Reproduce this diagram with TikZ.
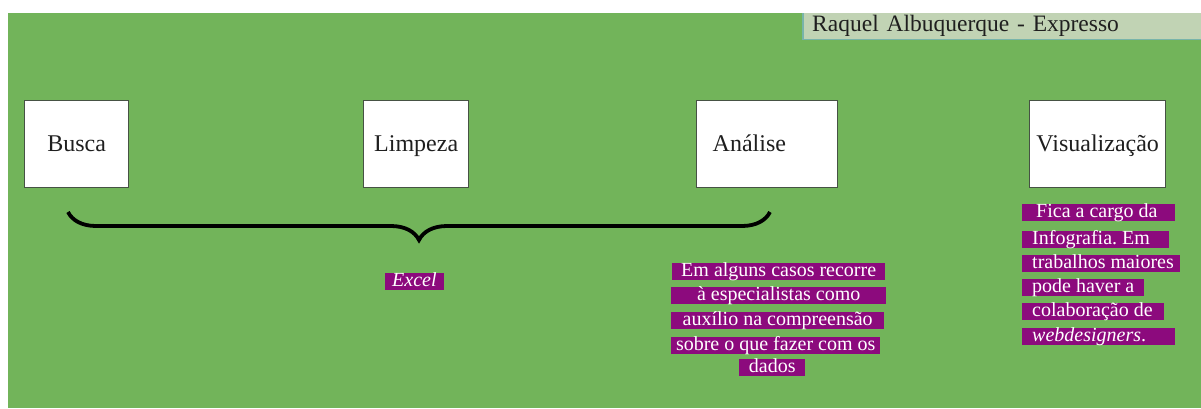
\documentclass[tikz,border=0pt]{standalone}
\usepackage{fontspec}
\setmainfont{Liberation Serif}
\usetikzlibrary{decorations.pathreplacing}
\frenchspacing

\definecolor{fundo}{RGB}{114,180,90}
\definecolor{roxo}{RGB}{140,10,125}
\definecolor{borda}{RGB}{70,82,68}
\definecolor{faixa}{RGB}{193,211,180}
\definecolor{faixaborda}{RGB}{120,180,170}

\tikzset{
	etapa/.style={draw=borda, line width=1.4pt, fill=white, anchor=north west,
		minimum height=87pt, inner sep=0pt, text=black!88, text height=17pt, text depth=3pt,
		font=\fontsize{24}{28}\selectfont},
	nota/.style={fill=roxo, text=white, anchor=north west, inner ysep=0pt,
		text height=13pt, text depth=4pt, font=\fontsize{20}{22}\selectfont}
}

\begin{document}
\begin{tikzpicture}[x=1pt, y=-1pt]

		\useasboundingbox (0,0) rectangle (1201,408);
		\fill[fundo] (8,13) rectangle (1201,408);

		\node[anchor=north west, fill=faixa, minimum width=398pt, minimum height=26pt,
			inner sep=0pt, text width=392pt, align=left, text=black!88,
			font=\fontsize{23.5}{26}\selectfont] (autor) at (803,13) {\hspace*{6pt}Raquel Albuquerque - Expresso};
		\draw[faixaborda, line width=1.2pt] (autor.north west) -- (autor.south west) -- (autor.south east);

		\foreach \n / \x / \w / \t in {busca/24/104/Busca, limpeza/363/105/Limpeza, visual/1029/136/Visualização} {
		\node[etapa, minimum width=\w pt] (\n) at (\x, 100) {\t};
		}
		\node[etapa, inner xsep=16pt, text width=109pt, align=left] (analise) at (696, 100) {Análise};

		\coordinate (chave-e) at (68,212);
		\coordinate (chave-d) at (770,212);
		\draw[line width=3.8pt, decorate, decoration={brace, mirror, amplitude=28pt}] (chave-e) -- (chave-d);

		\node[nota, inner xsep=7pt, font=\fontsize{20}{22}\selectfont\itshape] (excel) at (385,273) {Excel};

		\foreach \n / \x / \y / \w / \t in {1/672/263/213/Em alguns casos recorre, 2/671/287/215/à especialistas como,
			3/671/312/213/auxílio na compreensão, 4/671/337/209/sobre o que fazer com os, 5/739/359/66/dados} {
		\node[nota, inner xsep=0pt, minimum width=\w pt] (an-\n) at (\x, \y) {\t};
		}

		\foreach \n / \y / \w / \t in {1/204/153/\hspace*{4pt}Fica a cargo da, 2/231/147/Infografia. Em, 3/255/158/trabalhos maiores,
			4/279/122/pode haver a, 5/303/142/colaboração de, 6/328/153/\textit{webdesigners}.} {
		\node[nota, inner xsep=0pt] (vi-\n) at (1022, \y) {\makebox[\w pt][l]{\hspace*{10pt}\t}};
		}

\end{tikzpicture}
\end{document}
